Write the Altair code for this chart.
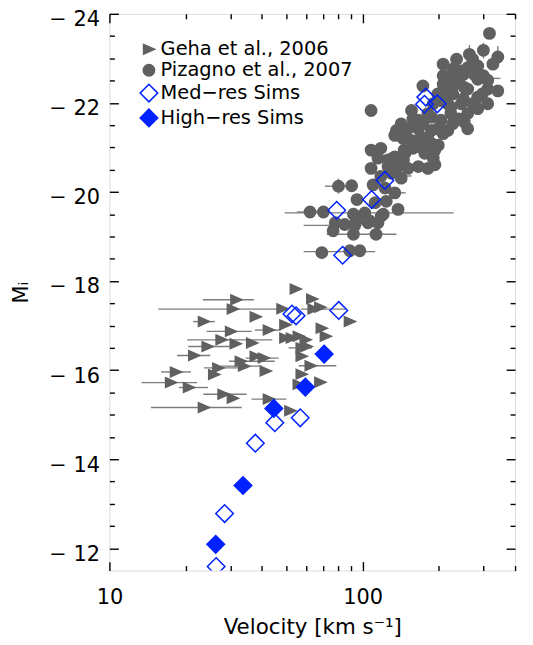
import altair as alt
import pandas as pd

# ---------------- data ----------------
series_names = ["Geha et al., 2006", "Pizagno et al., 2007", "Med\u2212res Sims", "High\u2212res Sims"]

# Geha et al. 2006 (velocity km/s, M_i, error-bar low, error-bar high)
geha_v = [54.4, 63.2, 31.7, 30.7, 48.2, 64.0, 68.0, 37.8, 23.6, 89.0,
          30.2, 42.6, 49.5, 68.9, 71.5, 49.5, 52.5, 55.9, 59.5, 57.4,
          60.1, 27.7, 31.5, 36.6, 24.4, 21.6, 33.0, 37.8, 40.7, 57.4,
          26.9, 25.9, 34.0, 41.4, 62.3, 57.4, 18.3, 17.5, 20.6, 68.0,
          55.9, 28.2, 30.7, 42.6, 23.6, 51.8]
geha_M = [-17.82, -17.60, -17.58, -17.37, -17.38, -17.37, -17.41, -17.20, -17.09, -17.09,
          -16.87, -16.90, -17.02, -16.94, -16.76, -16.72, -16.72, -16.76, -16.68, -16.50,
          -16.53, -16.68, -16.59, -16.61, -16.53, -16.33, -16.20, -16.31, -16.27, -16.31,
          -16.05, -15.90, -16.09, -15.98, -16.10, -15.91, -15.96, -15.72, -15.61, -15.73,
          -15.68, -15.46, -15.37, -15.35, -15.16, -15.09]
geha_lo = [None, None, 23.4, 15.6, None, 57.0, None, None, 21.4, None,
           24.2, 37.6, None, None, None, None, None, None, None, 51.0,
           None, 20.3, None, None, 20.5, 18.5, 29.7, None, 34.5, None,
           23.6, None, 27.5, None, 55.9, None, 16.0, 13.4, 18.8, None,
           None, 23.5, None, 36.4, 14.6, None]
geha_hi = [None, None, 37.2, 47.0, None, 86.0, None, None, 26.1, None,
           36.5, 47.5, None, None, None, None, None, None, None, 63.0,
           None, 44.0, None, None, 30.5, 25.0, 45.0, None, 46.6, None,
           35.0, None, 40.0, None, 78.7, None, 21.0, 22.2, 24.5, None,
           None, 34.8, None, 50.0, 33.3, None]

# Pizagno et al. 2007 (velocity, M_i)
pizagno_points = [
    (317, -23.56), (300, -23.18), (342, -23.03), (327, -22.87), (264, -23.09), (235, -22.98),
    (285, -22.83), (260, -22.79), (245, -22.72), (208, -22.61), (223, -22.57), (276, -22.64),
    (300, -22.61), (342, -22.27), (312, -22.31), (285, -22.13), (252, -22.35), (231, -22.42),
    (211, -22.38), (217, -22.20), (173, -22.38), (205, -22.05), (223, -21.90), (245, -21.98),
    (108, -21.83), (156, -21.83), (166, -21.61), (187, -21.68), (204, -21.61), (223, -21.76),
    (252, -21.57), (217, -21.38), (187, -21.38), (142, -21.53), (136, -21.38), (134, -21.27),
    (156, -21.16), (170, -21.24), (166, -21.02), (187, -21.09), (199, -21.05), (176, -20.87),
    (193, -20.94), (146, -20.94), (108, -20.94), (118, -20.98), (126, -20.72), (115, -20.76),
    (134, -20.79), (145, -20.72), (151, -20.53), (136, -20.53), (126, -20.57), (108, -20.53),
    (166, -20.57), (181, -20.53), (193, -20.61), (142, -20.31), (130, -20.42), (118, -20.35),
    (80.3, -20.13), (90.5, -20.14), (95, -19.83), (110, -20.16), (122.5, -20.09), (134, -19.98),
    (124, -19.79), (112, -19.76), (62, -19.55), (70, -19.55), (138, -19.61), (92, -19.50),
    (102, -19.53), (118.5, -19.46), (115, -19.31), (105, -19.31), (85, -19.27), (93, -19.24),
    (78, -19.31), (76.5, -19.13), (92, -19.05), (113, -19.05), (69, -18.64), (89, -18.68),
    (97.5, -18.68), (208, -22.42), (227, -22.20), (240, -22.53), (250, -22.09), (260, -22.31),
    (272, -21.98), (260, -21.76), (240, -21.64), (227, -21.53), (217, -21.98), (198, -22.20),
    (190, -21.98), (181, -21.76), (173, -21.53), (198, -21.42), (208, -21.31), (181, -21.20),
    (166, -21.42), (158, -21.64), (151, -21.42), (144.5, -21.20), (158, -20.98), (173, -21.09),
    (190, -20.76), (208, -22.87), (227, -22.76), (250, -22.64), (272, -22.98), (285, -22.53),
    (297, -22.20), (312, -21.98), (285, -21.87), (260, -21.42), (312, -22.51), (277, -22.80),
    (131.6, -20.76), (147, -20.87), (120.6, -19.50), (94.5, -19.35), (106.7, -19.35),
]
# Pizagno horizontal error bars (M_i, low, high) and vertical ones (v, low, high)
pz_xbar_M = [-19.53, -19.55, -19.25, -19.05, -18.66, -20.13, -19.98, -20.36, -22.55]
pz_xbar_lo = [49.2, 55.0, 58.5, 72.0, 58.5, 71.0, 126.0, 130.0, 300.0]
pz_xbar_hi = [229.0, 71.0, 99.0, 136.0, 112.0, 94.0, 148.0, 156.0, 350.0]
pz_ybar_v = [80.3, 264, 342, 300]
pz_ybar_lo = [-20.30, -23.30, -23.28, -23.35]
pz_ybar_hi = [-19.96, -22.90, -22.85, -23.00]

# Simulations
med_v = [177.6, 175.5, 197.2, 122.5, 108.5, 79.0, 83.4, 52.6, 54.6, 80.5, 56.7, 45.0, 37.7, 28.5, 26.4]
med_M = [-22.13, -21.97, -21.98, -20.26, -19.83, -19.59, -18.58, -17.26, -17.22, -17.34,
         -14.93, -14.82, -14.36, -12.78, -11.59]
high_v = [70.5, 59.4, 44.6, 33.7, 26.3]
high_M = [-16.36, -15.62, -15.14, -13.41, -12.09]

# axis tick values
x_major = [10, 100]
x_minor = [20, 30, 40, 50, 60, 70, 80, 90, 200, 300, 400]
y_major = [-24, -22, -20, -18, -16, -14, -12]
y_minor = [-23.5, -23, -22.5, -21.5, -21, -20.5, -19.5, -19, -18.5, -17.5, -17, -16.5,
           -15.5, -15, -14.5, -13.5, -13, -12.5]

# ---------------- tables ----------------
pts = pd.concat([
    pd.DataFrame({"v": geha_v, "M": geha_M, "series": series_names[0]}),
    pd.DataFrame({"v": [p[0] for p in pizagno_points], "M": [p[1] for p in pizagno_points],
                  "series": series_names[1]}),
    pd.DataFrame({"v": med_v, "M": med_M, "series": series_names[2]}),
    pd.DataFrame({"v": high_v, "M": high_M, "series": series_names[3]}),
], ignore_index=True)
pts["order"] = range(len(pts))

gbar = pd.DataFrame({"M": geha_M, "lo": geha_lo, "hi": geha_hi}).dropna()
hbars = pd.concat([gbar, pd.DataFrame({"M": pz_xbar_M, "lo": pz_xbar_lo, "hi": pz_xbar_hi})],
                  ignore_index=True)
vbars = pd.DataFrame({"v": pz_ybar_v, "lo": pz_ybar_lo, "hi": pz_ybar_hi})

# ---------------- styles ----------------
GRAY = "#606060"
BAR = "#7c7c7c"
BLUE = "#0022ff"
FONT = "DejaVu Sans"

XS = alt.Scale(type="log", domain=[10, 400], nice=False)
YS = alt.Scale(domain=[-24, -11.5], reverse=True, nice=False, zero=False)

tri = "M-0.95,-0.85L1,0L-0.95,0.85Z"
dia = "M-1.55,0L0,-1.55L1.55,0L0,1.55Z"


def tick_axis(orient, values, size):
    return alt.Axis(orient=orient, values=values, labels=False, domain=False, grid=False,
                    ticks=True, tickSize=size, tickWidth=1.4, tickColor="black",
                    offset=-size, title="")


x_lab = alt.Axis(orient="bottom", values=x_major, format="d", ticks=False, tickSize=0,
                 domain=False, grid=False, labelFont=FONT, labelFontSize=21, labelColor="black",
                 labelPadding=16, labelFlush=False, labelOverlap=False,
                 title="Velocity [km s\u207b\u00b9]", titleFont=FONT, titleFontSize=21.5,
                 titleFontWeight="normal", titleColor="black", titlePadding=9)
y_lab = alt.Axis(orient="left", values=y_major, ticks=False, tickSize=0, domain=False, grid=False,
                 labelExpr="'\u2212 ' + format(abs(datum.value), 'd')",
                 labelFont=FONT, labelFontSize=21, labelColor="black", labelPadding=10,
                 labelOffset=6, labelFlush=False, labelOverlap=False,
                 title="M\u1d62", titleFont=FONT, titleFontSize=21, titleFontWeight="normal",
                 titleColor="black", titlePadding=17)

legend = alt.Legend(orient="none", legendX=30, legendY=26, title=None, labelFont=FONT,
                    labelFontSize=19.5, labelColor="black", labelOffset=2, rowPadding=0,
                    padding=0, symbolSize=130, symbolStrokeWidth=1.5, labelLimit=400)

errh = alt.Chart(hbars).mark_rule(color=BAR, strokeWidth=1.4).encode(
    x=alt.X("lo:Q", scale=XS, axis=x_lab),
    x2="hi:Q",
    y=alt.Y("M:Q", scale=YS, axis=y_lab),
)

errv = alt.Chart(vbars).mark_rule(color=BAR, strokeWidth=1.4).encode(
    x=alt.X("v:Q", scale=XS, axis=tick_axis("bottom", x_major, 9)),
    y=alt.Y("lo:Q", scale=YS, axis=tick_axis("left", y_major, 9)),
    y2="hi:Q",
)

points = alt.Chart(pts).mark_point(opacity=1, strokeWidth=1.5, size=130, clip=True).encode(
    x=alt.X("v:Q", scale=XS, axis=tick_axis("bottom", x_minor, 5)),
    y=alt.Y("M:Q", scale=YS, axis=tick_axis("left", y_minor, 5)),
    shape=alt.Shape("series:N", scale=alt.Scale(domain=series_names, range=[tri, "circle", dia, dia]),
                    legend=legend),
    fill=alt.Fill("series:N", scale=alt.Scale(domain=series_names,
                                              range=[GRAY, GRAY, "transparent", BLUE]),
                  legend=legend),
    stroke=alt.Stroke("series:N", scale=alt.Scale(domain=series_names,
                                                  range=[GRAY, GRAY, BLUE, BLUE]),
                      legend=legend),
    order="order:Q",
)

ghost1 = alt.Chart(pts).mark_point(opacity=0).encode(
    x=alt.X("v:Q", scale=XS, axis=tick_axis("top", x_major, 9)),
    y=alt.Y("M:Q", scale=YS, axis=tick_axis("right", y_major, 9)),
)
ghost2 = alt.Chart(pts).mark_point(opacity=0).encode(
    x=alt.X("v:Q", scale=XS, axis=tick_axis("top", x_minor, 5)),
    y=alt.Y("M:Q", scale=YS, axis=tick_axis("right", y_minor, 5)),
)

chart = (
    alt.layer(errh, errv, points, ghost1, ghost2)
    .resolve_scale(x="shared", y="shared")
    .resolve_axis(x="independent", y="independent")
    .properties(width=408, height=560,
                padding={"left": 102, "top": 4, "right": 10, "bottom": 72},
                autosize=alt.AutoSizeParams(type="none"))
    .configure_view(stroke="black", strokeWidth=2)
    .configure(background="white")
)

chart.save("out.html", embed_options={"renderer": "svg", "actions": False})
